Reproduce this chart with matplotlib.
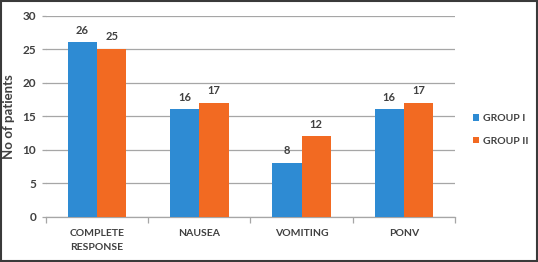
import matplotlib
matplotlib.use("Agg")
import matplotlib.pyplot as plt
import numpy as np
from matplotlib.patches import Rectangle

categories = ["COMPLETE\nRESPONSE", "NAUSEA", "VOMITING", "PONV"]
group1 = [26, 16, 8, 16]
group2 = [25, 17, 12, 17]
series_names = ["GROUP I", "GROUP II"]
yticks = [0, 5, 10, 15, 20, 25, 30]

plt.rcParams['font.family'] = ['Lato', 'DejaVu Sans']
blue = "#2E8BD3"
orange = "#F26A22"
txt = "#404040"
grid = "#A6A6A6"

fig = plt.figure(figsize=(5.38, 2.62), dpi=100)
ax = fig.add_axes([46/538, 1-216.7/262, (455-46)/538, (216.7-15.7)/262])

x = np.arange(len(categories))
w = 0.285
b1 = ax.bar(x - w/2, group1, w, color=blue, label=series_names[0], zorder=3)
b2 = ax.bar(x + w/2, group2, w, color=orange, label=series_names[1], zorder=3)
for bars in (b1, b2):
    for r in bars:
        ax.text(r.get_x() + r.get_width()/2, r.get_height() + 1.0, f"{int(r.get_height())}",
                ha="center", va="bottom", fontsize=8, color=txt, fontweight="bold")

ax.set_xlim(-0.5, len(categories) - 0.5)
ax.set_ylim(0, 30)
ax.set_yticks(yticks)
ax.yaxis.grid(True, color=grid, linewidth=0.9, zorder=0)
ax.set_axisbelow(True)
for s in ["top", "right", "left"]:
    ax.spines[s].set_visible(False)
ax.spines["bottom"].set_color(grid)
ax.spines["bottom"].set_linewidth(0.9)

ax.set_xticks(x)
ax.set_xticklabels(categories, fontsize=7.5, color=txt, fontweight="bold", linespacing=1.7)
ax.tick_params(axis="x", length=0, pad=9)
ax.set_xticks(np.arange(-0.5, len(categories)), minor=True)
ax.tick_params(axis="x", which="minor", length=4, color=grid, width=0.9)
ax.tick_params(axis="y", length=3, color=grid, width=0.9, labelsize=8.5, labelcolor=txt, pad=4)
for lab in ax.get_yticklabels():
    lab.set_fontweight("bold")

ax.set_ylabel("No of patients", fontsize=9.5, fontweight="bold", color=txt)
ax.yaxis.set_label_coords(-31/409, 0.5)

leg = fig.legend(loc="upper left", bbox_to_anchor=(473/538, 1-114/262), frameon=False,
                 fontsize=7.5, handlelength=0.6, handleheight=0.6, handletextpad=0.35,
                 labelspacing=1.3, borderpad=0, borderaxespad=0)
for t in leg.get_texts():
    t.set_color(txt)
    t.set_fontweight("bold")

fig.patches.append(Rectangle((0.001, 0.002), 0.997, 0.995, transform=fig.transFigure,
                             fill=False, edgecolor="#3A3A3A", linewidth=1.5))

fig.savefig("out.png", dpi=100)
